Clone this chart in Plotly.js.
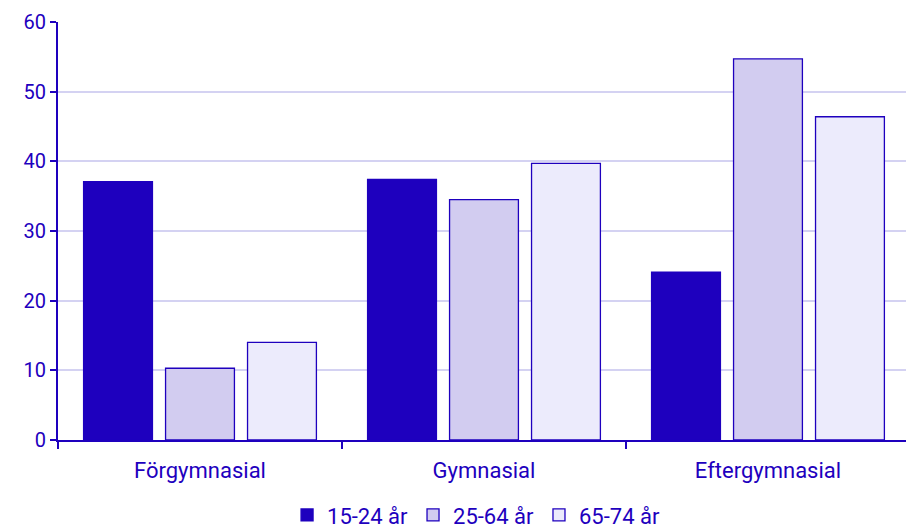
<!DOCTYPE html>
<html>
<head>
<meta charset="utf-8">
<script src="https://cdn.plot.ly/plotly-3.0.1.min.js"></script>
<style>
  html, body { margin: 0; padding: 0; background: #fff; }
  #chart { width: 906px; height: 530px; }
</style>
</head>
<body>
<div id="chart"></div>
<script>
// Utbildningsnivå per åldersgrupp (procent)
const categories = ['Förgymnasial', 'Gymnasial', 'Eftergymnasial'];
const seriesNames = ['15-24 år', '25-64 år', '65-74 år'];
const values15_24 = [37.1, 37.4, 24.1];
const values25_64 = [10.3, 34.5, 54.7];
const values65_74 = [14.0, 39.7, 46.4];
const yTicks = [0, 10, 20, 30, 40, 50, 60];

const dark = '#1e00be';
const colors = ['#1e00be', '#d2ccf0', '#ecebfc'];
const seriesValues = [values15_24, values25_64, values65_74];

const traces = seriesNames.map((name, i) => ({
    type: 'bar',
    name: name,
    x: categories,
    y: seriesValues[i],
    marker: {
        color: colors[i],
        line: { color: dark, width: 1.3 }
    },
    hoverinfo: 'x+y+name'
}));

const layout = {
    width: 906,
    height: 530,
    margin: { l: 58, r: 0, t: 22, b: 90 },
    paper_bgcolor: '#fff',
    plot_bgcolor: '#fff',
    font: { family: 'Roboto, sans-serif', color: dark, size: 20 },
    barmode: 'group',
    bargap: 0.134,
    bargroupgap: 0.16,
    showlegend: true,
    legend: {
        orientation: 'h',
        x: 0.493,
        xanchor: 'center',
        yref: 'container',
        y: 0.028,
        yanchor: 'middle',
        font: { size: 22, color: dark },
        itemwidth: 30,
        tracegroupgap: 0
    },
    xaxis: {
        type: 'category',
        range: [-0.5, 2.486],
        showline: true,
        linecolor: dark,
        linewidth: 2,
        ticks: 'outside',
        tickson: 'boundaries',
        ticklen: 7,
        tickwidth: 2,
        tickcolor: dark,
        ticklabelstandoff: 10,
        tickfont: { size: 22, color: dark },
        showgrid: false,
        fixedrange: true
    },
    yaxis: {
        range: [0, 60],
        tickvals: yTicks,
        showline: true,
        linecolor: dark,
        linewidth: 2,
        ticks: 'outside',
        ticklen: 6,
        tickwidth: 2,
        tickcolor: dark,
        tickfont: { size: 20, color: dark },
        showgrid: true,
        gridcolor: '#d4d2f2',
        gridwidth: 2,
        zeroline: false,
        fixedrange: true
    }
};

Plotly.newPlot('chart', traces, layout, { displayModeBar: false, staticPlot: true });
</script>
</body>
</html>
